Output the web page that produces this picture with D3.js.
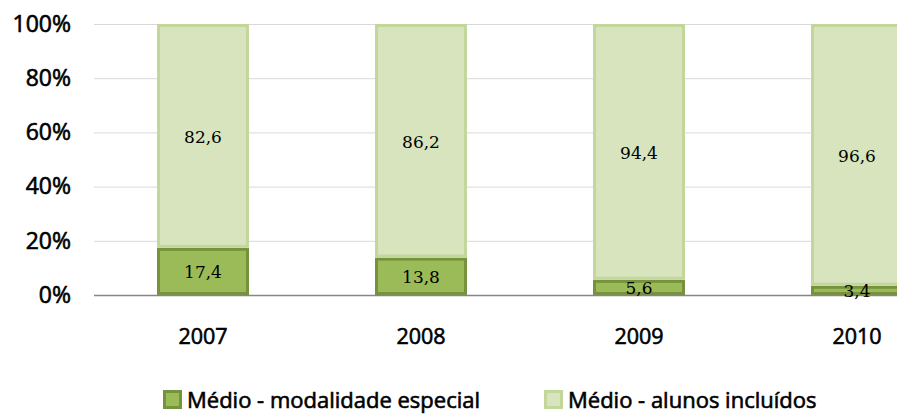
<!DOCTYPE html>
<html>
<head>
<meta charset="utf-8">
<script src="https://cdn.jsdelivr.net/npm/d3@7"></script>
<style>
	body { margin: 0; background: #fff; }
	svg { display: block; }
	.heavy { stroke: #000; stroke-width: 0.6px; paint-order: stroke; }
</style>
</head>
<body>
<svg id="chart" width="897" height="416"></svg>
<script>
'use strict';

var years     = ['2007', '2008', '2009', '2010'];
var especial  = [17.4, 13.8, 5.6, 3.4];
var incluidos = [82.6, 86.2, 94.4, 96.6];
var yTicks    = [0, 20, 40, 60, 80, 100];
var legendNames = ['Médio - modalidade especial', 'Médio - alunos incluídos'];

var svg = d3.select('#chart');

// plot area runs past the right edge, like the original crop
var x = d3.scaleBand()
	.domain(years)
	.range([94, 966])
	.paddingInner(0.578)
	.paddingOuter(0.289);

var y = d3.scaleLinear()
	.domain([0, 100])
	.range([295, 24]);

var grid = svg.append('g').attr('class', 'grid');

grid.selectAll('line')
	.data(yTicks.slice(1))
	.enter().append('line')
		.attr('x1', 94)
		.attr('x2', 897)
		.attr('y1', function (d) { return y(d) + 0.5; })
		.attr('y2', function (d) { return y(d) + 0.5; })
		.attr('stroke', '#d9d9d9')
		.attr('stroke-width', 1);

var yAxis = d3.axisLeft(y)
	.tickValues(yTicks)
	.tickSize(0)
	.tickPadding(0)
	.tickFormat(function (d) { return d + '%'; });

svg.append('g')
	.attr('transform', 'translate(71,0)')
	.call(yAxis)
	.call(function (g) { g.select('.domain').remove(); })
	.selectAll('text')
		.attr('class', 'heavy')
		.attr('font-family', '"Open Sans", sans-serif')
		.attr('font-size', 23)
		.attr('fill', '#000');

var series = [
	{ name: legendNames[0], values: especial, fill: '#9bbb59', stroke: '#76923c' },
	{ name: legendNames[1], values: incluidos, fill: '#d7e4bd', stroke: '#c3d69b' }
];

var stacked = years.map(function (yr, i) {
	var y0 = 0;
	return series.map(function (s) {
		var o = { year: yr, value: s.values[i], y0: y0, y1: y0 + s.values[i], s: s };
		y0 += s.values[i];
		return o;
	});
});

var bars = svg.append('g').attr('class', 'bars');

stacked.forEach(function (segs) {
	segs.forEach(function (d) {
		bars.append('rect')
			.attr('x', x(d.year) + 1.5)
			.attr('y', y(d.y1) + 1.5)
			.attr('width', x.bandwidth() - 3)
			.attr('height', Math.max(0, y(d.y0) - y(d.y1) - 3))
			.attr('fill', d.s.fill)
			.attr('stroke', d.s.stroke)
			.attr('stroke-width', 3);
	});
});

svg.append('line')
	.attr('x1', 94)
	.attr('x2', 897)
	.attr('y1', 295.5)
	.attr('y2', 295.5)
	.attr('stroke', '#868686')
	.attr('stroke-width', 1.5);

var labels = svg.append('g').attr('class', 'labels');

stacked.forEach(function (segs) {
	segs.forEach(function (d) {
		labels.append('text')
			.attr('x', x(d.year) + x.bandwidth() / 2)
			.attr('y', y((d.y0 + d.y1) / 2) + 1)
			.attr('dy', '0.35em')
			.attr('text-anchor', 'middle')
			.attr('font-family', '"DejaVu Serif", serif')
			.attr('font-size', 17)
			.attr('fill', '#000')
			.text(String(d.value).replace('.', ','));
	});
});

var xAxis = d3.axisBottom(x).tickSize(0).tickPadding(0);

svg.append('g')
	.attr('transform', 'translate(0,344)')
	.call(xAxis)
	.call(function (g) { g.select('.domain').remove(); })
	.selectAll('text')
		.attr('class', 'heavy')
		.attr('dy', 0)
		.attr('font-family', '"Open Sans", sans-serif')
		.attr('font-size', 21.5)
		.attr('fill', '#000');

var legendX = [163, 544];
var legend = svg.append('g').attr('class', 'legend');

series.forEach(function (s, i) {
	var g = legend.append('g').attr('transform', 'translate(' + legendX[i] + ',390)');
	g.append('rect')
		.attr('x', 1.5).attr('y', 1.5)
		.attr('width', 16).attr('height', 16)
		.attr('fill', s.fill)
		.attr('stroke', s.stroke)
		.attr('stroke-width', 3);
	g.append('text')
		.attr('class', 'heavy')
		.attr('x', 24)
		.attr('y', 18)
		.attr('font-family', '"Open Sans", sans-serif')
		.attr('font-size', 22)
		.attr('fill', '#000')
		.text(s.name);
});
</script>
</body>
</html>
